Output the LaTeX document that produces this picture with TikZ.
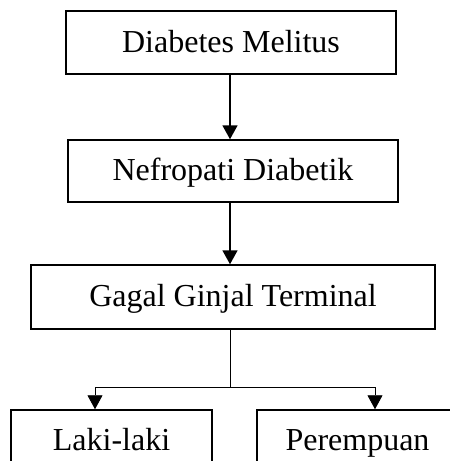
\documentclass[tikz,border=0pt]{standalone}
\usepackage{fontspec}
\setmainfont{Liberation Serif}
\usetikzlibrary{arrows.meta}
\begin{document}
\begin{tikzpicture}[x=1pt,y=-1pt,
  box/.style={draw, line width=1.5pt, inner sep=0pt, text height=24pt, text depth=5pt, font=\fontsize{32}{36}\selectfont},
  thickarrow/.style={line width=1.7pt, -{Triangle[length=14pt,width=15pt]}},
  thinarrow/.style={line width=0.9pt, -{Triangle[length=14pt,width=15pt]}}]
\useasboundingbox (0,0) rectangle (450,461);
\clip (0,0) rectangle (450,461);
\node[box, minimum width=330pt, minimum height=63pt] (b1) at (231,42.5) {Diabetes Melitus};
\node[box, minimum width=330pt, minimum height=62pt] (b2) at (233,171) {Nefropati Diabetik};
\node[box, minimum width=404pt, minimum height=64pt] (b3) at (233,297) {Gagal Ginjal Terminal};
\node[box, minimum width=201pt, minimum height=62pt] (b4) at (111.5,441) {Laki-laki};
\node[box, minimum width=201pt, minimum height=62pt] (b5) at (357.5,441) {Perempuan};
\coordinate (j) at (230,387);
\coordinate (l) at (95,387);
\coordinate (r) at (375,387);
\draw[thickarrow] (b1.south -| j) -- (b2.north -| j);
\draw[thickarrow] (b2.south -| j) -- (b3.north -| j);
\draw[line width=0.9pt] (b3.south -| j) -- (j);
\draw[thinarrow] (j) -- (l) -- (l |- b4.north);
\draw[thinarrow] (j) -- (r) -- (r |- b5.north);
\end{tikzpicture}
\end{document}
